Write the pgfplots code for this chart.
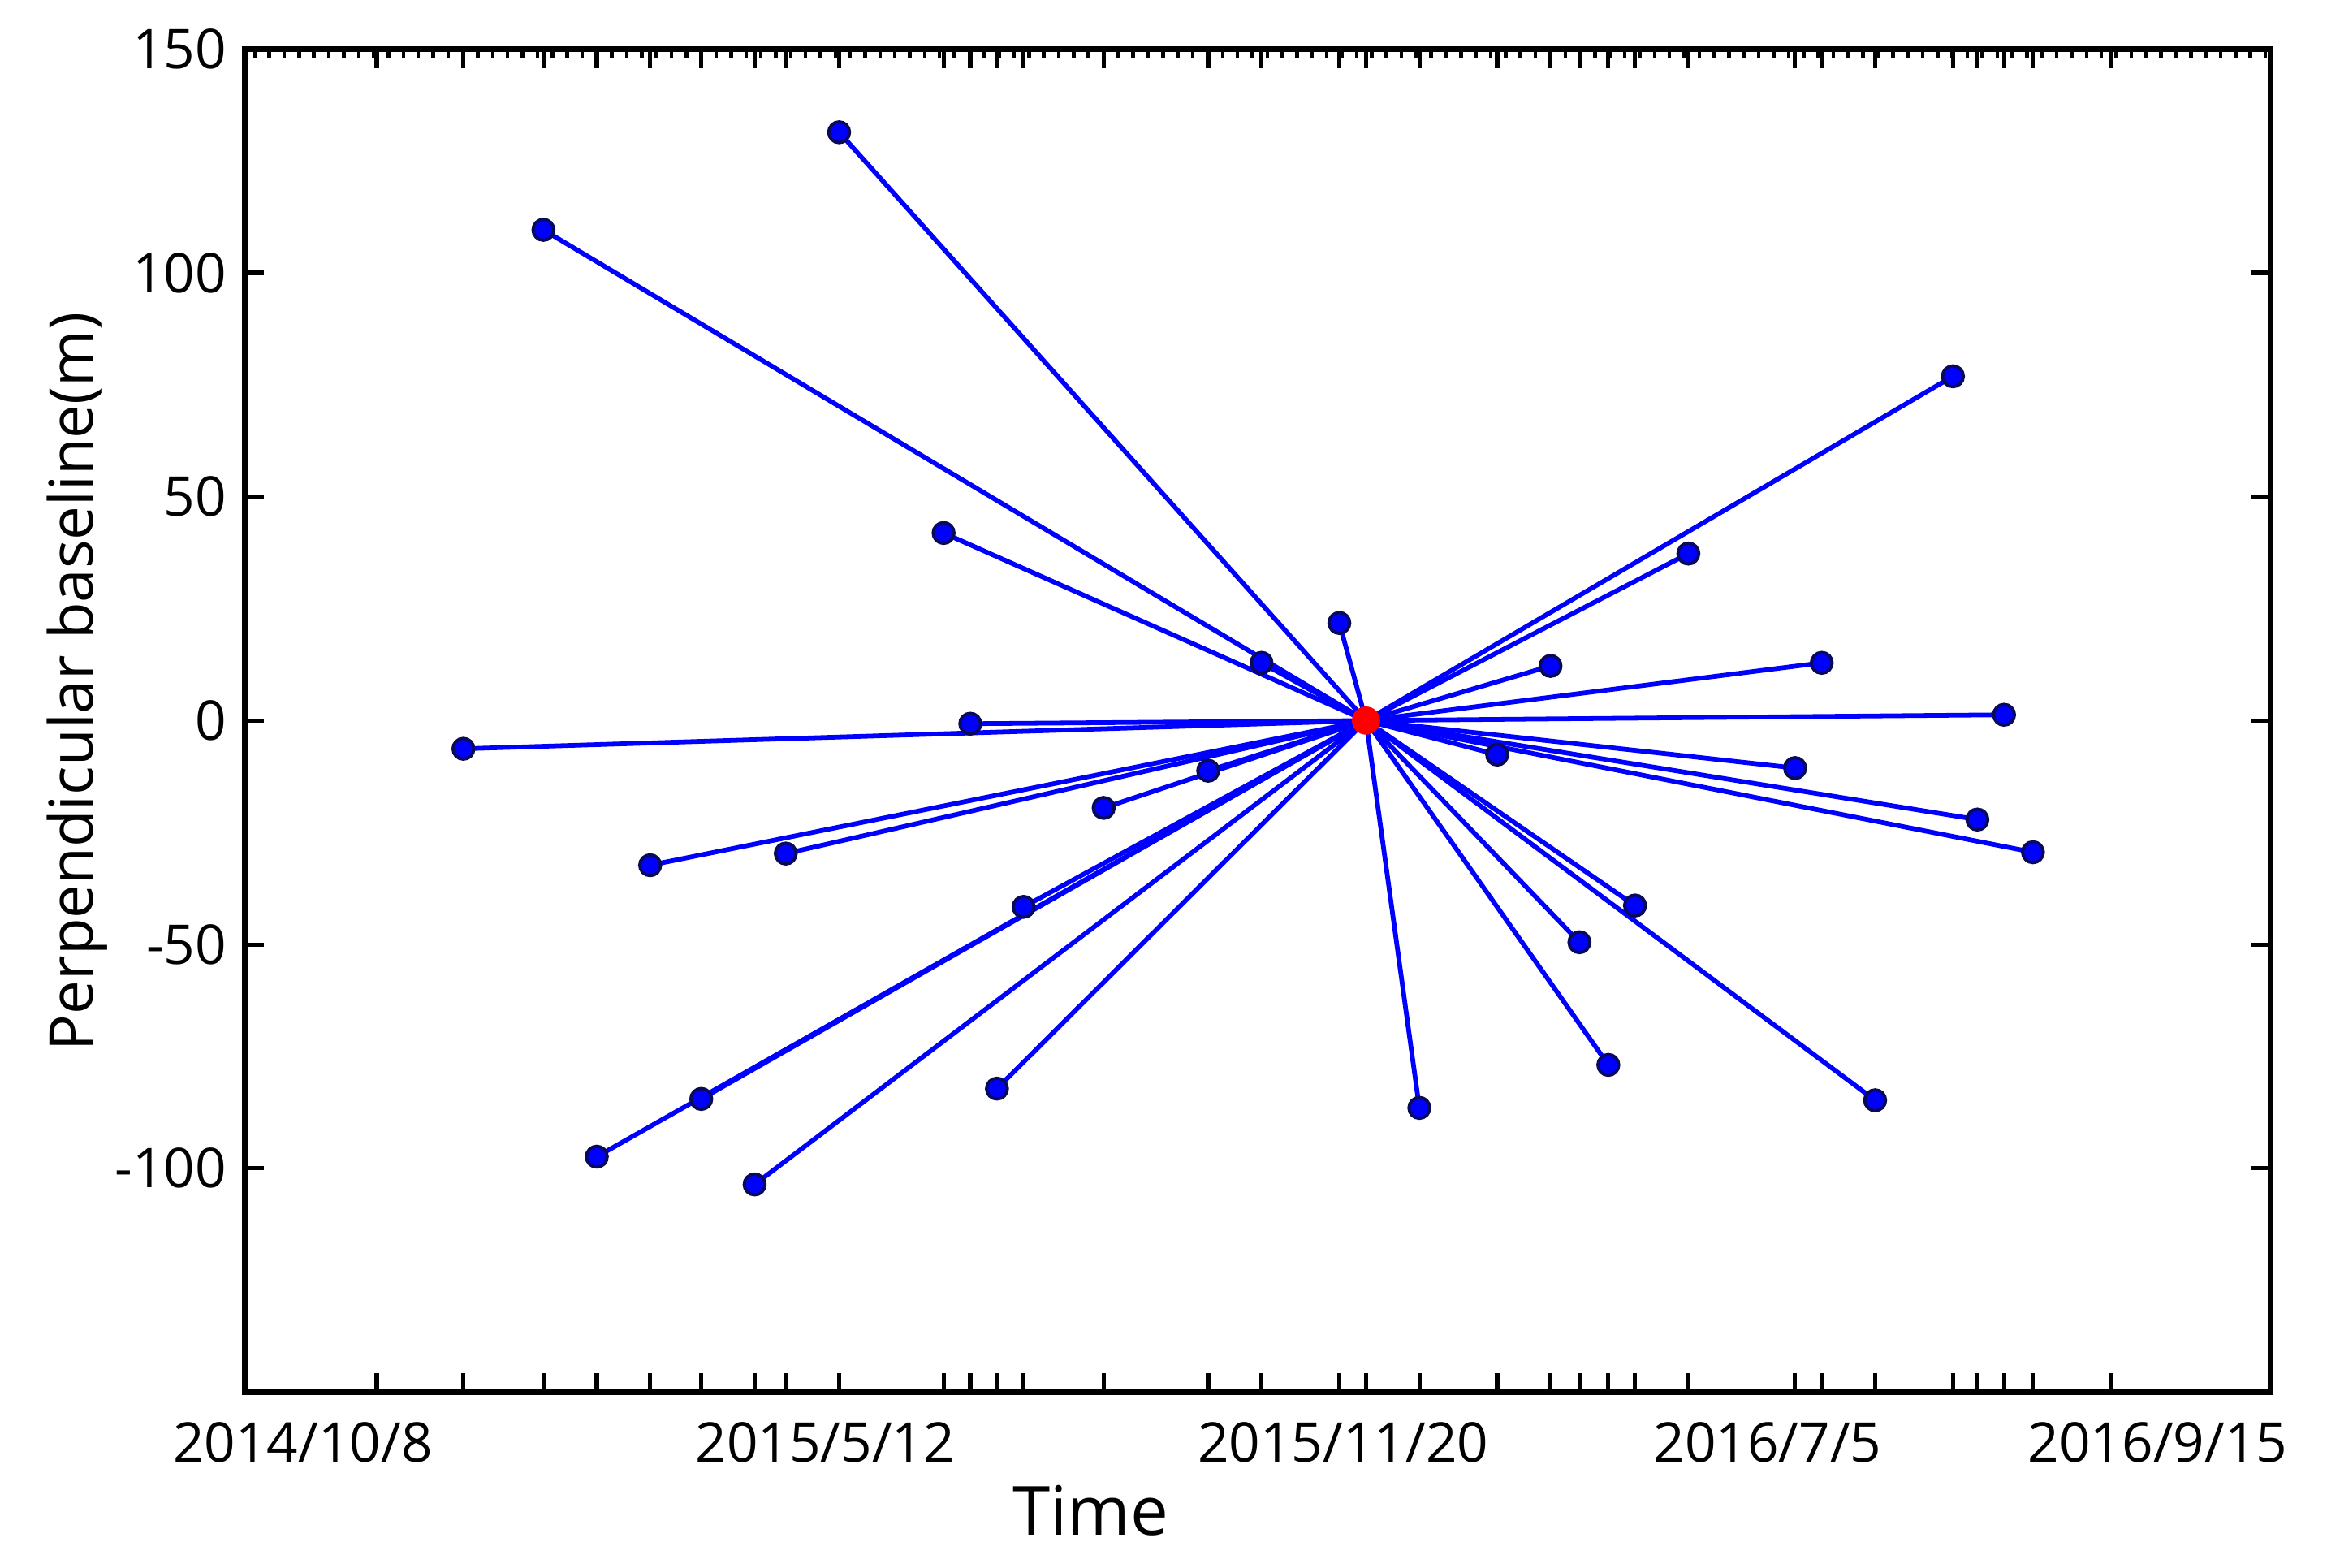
\documentclass[border=0pt]{standalone}
\usepackage{fontspec}
\setmainfont{Open Sans}
\usepackage{pgfplots}
\usepackage{pgfplotstable}
\pgfplotsset{compat=1.18}
\usetikzlibrary{calc}
\definecolor{lineblue}{RGB}{0,0,255}
\definecolor{markedge}{RGB}{10,10,90}

% days from master date 2015/11/20, perpendicular baseline (m)
\pgfplotstableread{
d b
-406 -6.3
-370 109.6
-346 -97.4
-322 -32.3
-299 -84.5
-275 -103.6
-261 -29.7
-237 131.4
-190 41.9
-178 -0.7
-166 -82.2
-154 -41.6
-118 -19.5
-71 -11.2
-47 12.9
-12 21.8
24 -86.5
59 -7.6
83 12.2
96 -49.5
109 -76.9
121 -41.3
145 37.3
193 -10.6
205 12.9
229 -84.8
264 76.9
275 -22.1
287 1.3
300 -29.4
}\baselines

\begin{document}
\begin{tikzpicture}
% fine ticks along the top edge only
\begin{axis}[
    scale only axis,
    width=13.65cm, height=9.05cm,
    xmin=-504.3, xmax=406.9, ymin=-150, ymax=150,
    axis line style={draw=none},
    xtick pos=upper,
    tick style={line width=0.7pt, black},
    major tick length=0.065cm,
    tick align=inside,
    xtick={-500,-493.3,...,405},
    xticklabels={},
    ytick=\empty,
]
\end{axis}
\begin{axis}[
    scale only axis,
    width=13.65cm, height=9.05cm,
    xmin=-504.3, xmax=406.9, ymin=-150, ymax=150,
    axis line style={line width=1.1pt},
    tick style={line width=0.8pt, black},
    major tick length=0.13cm,
    tick align=inside,
    xtick={-445,-406,-370,-346,-322,-299,-275,-261,-237,-190,-178,-166,-154,-118,-71,-47,-12,0,24,59,83,96,109,121,145,193,205,229,264,275,287,300,335},
    xticklabels={},
    extra x ticks={-478.3,-243.3,-10.3,180.6,356.1},
    extra x tick labels={2014/10/8,2015/5/12,2015/11/20,2016/7/5,2016/9/15},
    extra x tick style={major tick length=0pt, xticklabel style={yshift=-0.08cm}},
    ytick={-100,-50,0,50,100,150},
    ticklabel style={font=\fontsize{10.5}{12}\selectfont, /pgf/number format/assume math mode=true},
    every axis y label/.style={at={(axis description cs:-0.0828,0.529)}, rotate=90, anchor=center},
    every axis x label/.style={at={(axis description cs:0.4176,-0.0884)}, anchor=center},
    ylabel={\fontsize{11.6}{13}\selectfont Perpendicular baseline(m)},
    xlabel={\fontsize{13}{15}\selectfont Time},
    clip=false,
]
\addplot[lineblue, line width=0.9pt, quiver={u={-\thisrow{d}}, v={-\thisrow{b}}}] table[x=d, y=b] {\baselines};
\addplot[only marks, mark=*, mark size=2pt, mark options={fill=blue, draw=markedge, line width=0.6pt}] table[x=d, y=b] {\baselines};
\addplot[only marks, mark=*, mark size=2.5pt, mark options={fill=red, draw=red}] coordinates {(0,0)};
\coordinate (sw) at (rel axis cs:0,0);
\coordinate (ne) at (rel axis cs:1,1);
\end{axis}
\path (sw) ++(-1.65cm,-1.18cm) rectangle ($(ne)+(0.38cm,0.33cm)$);
\end{tikzpicture}
\end{document}
